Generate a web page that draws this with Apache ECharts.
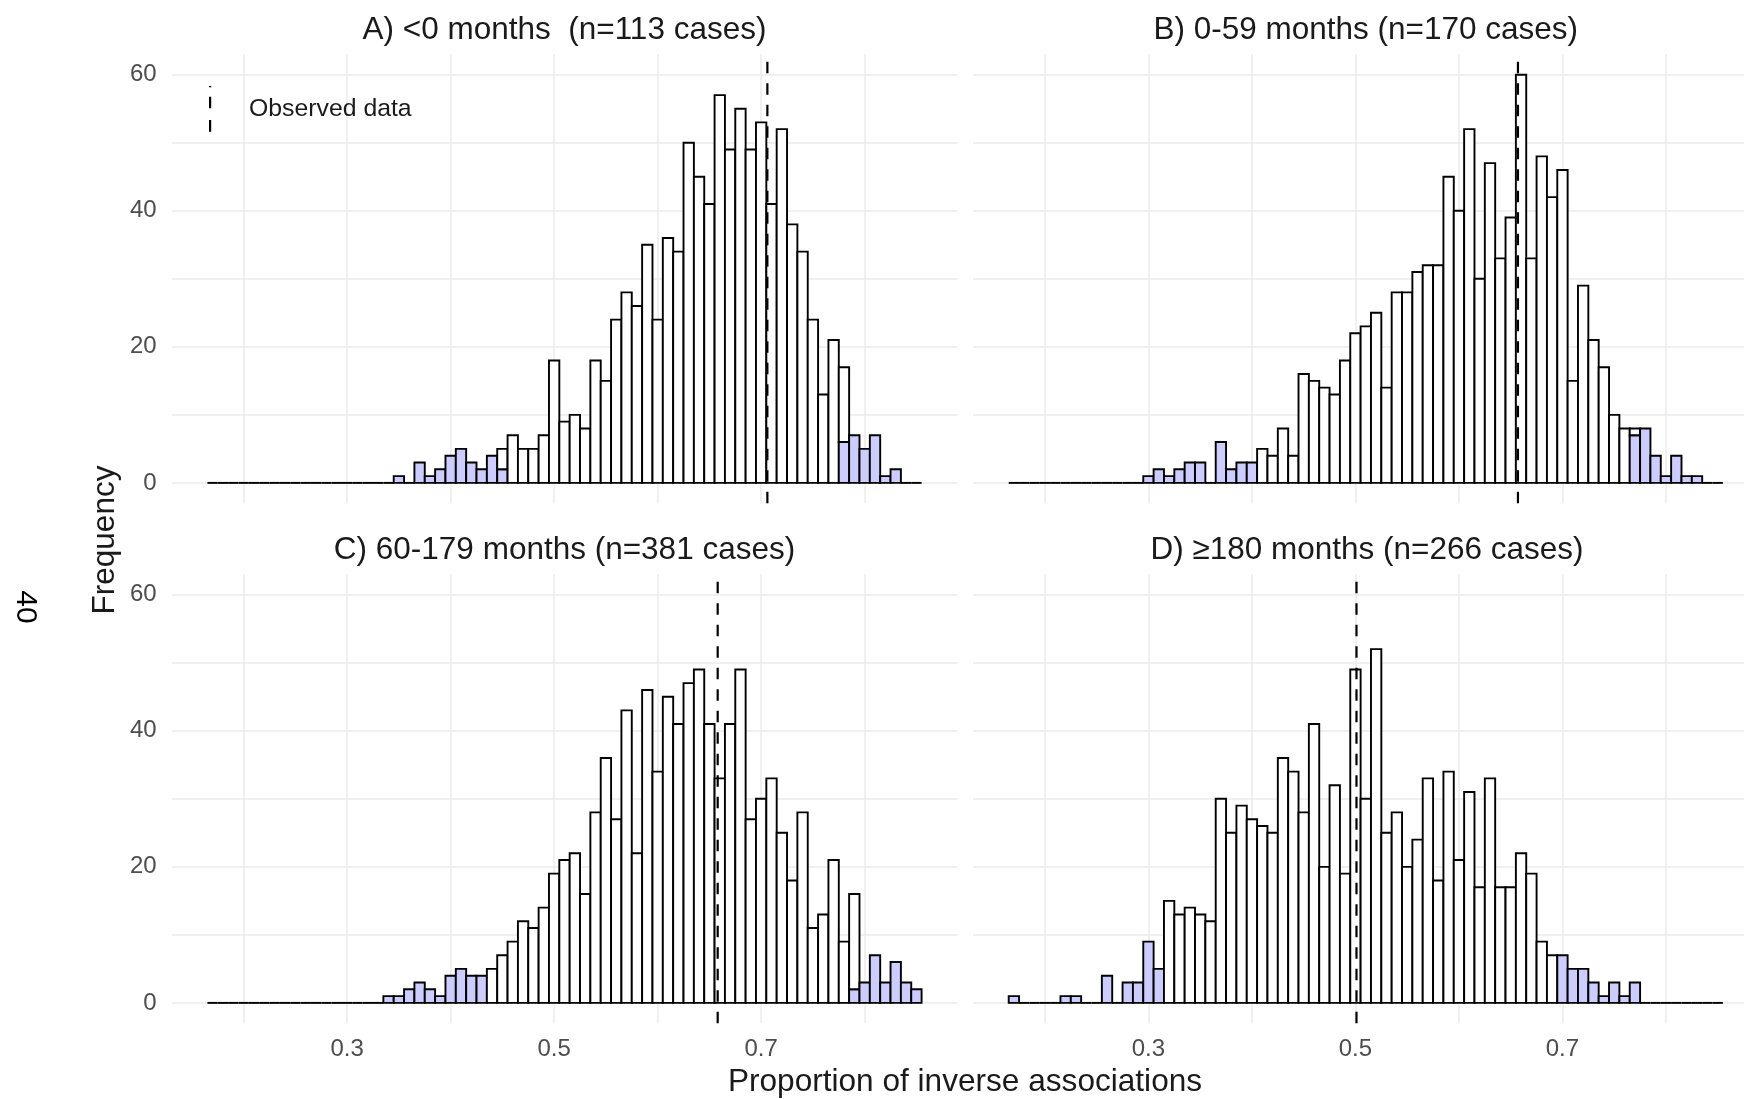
<!DOCTYPE html>
<html>
<head>
<meta charset="utf-8">
<script src="https://cdn.jsdelivr.net/npm/echarts@6/dist/echarts.min.js"></script>
<style>
  html, body { margin: 0; padding: 0; background: #ffffff; }
  #chart { width: 1744px; height: 1099px; }
</style>
</head>
<body>
<div id="chart"></div>
<script>
// Histogram bins: width 0.01, centres 0.17 ... 0.85
const binCenters = [
  0.17, 0.18, 0.19, 0.20, 0.21, 0.22, 0.23, 0.24, 0.25, 0.26,
  0.27, 0.28, 0.29, 0.30, 0.31, 0.32, 0.33, 0.34, 0.35, 0.36,
  0.37, 0.38, 0.39, 0.40, 0.41, 0.42, 0.43, 0.44, 0.45, 0.46,
  0.47, 0.48, 0.49, 0.50, 0.51, 0.52, 0.53, 0.54, 0.55, 0.56,
  0.57, 0.58, 0.59, 0.60, 0.61, 0.62, 0.63, 0.64, 0.65, 0.66,
  0.67, 0.68, 0.69, 0.70, 0.71, 0.72, 0.73, 0.74, 0.75, 0.76,
  0.77, 0.78, 0.79, 0.80, 0.81, 0.82, 0.83, 0.84, 0.85
];
const binWidth = 0.01;

const panelTitles = [
  'A) <0 months  (n=113 cases)',
  'B) 0-59 months (n=170 cases)',
  'C) 60-179 months (n=381 cases)',
  'D) \u2265180 months (n=266 cases)'
];

// Observed proportion of inverse associations per panel
const observedValues = [0.706, 0.657, 0.658, 0.501];

// Total counts per bin
const totalA = [
  0, 0, 0, 0, 0, 0, 0, 0, 0, 0,
  0, 0, 0, 0, 0, 0, 0, 0, 1, 0,
  3, 1, 2, 4, 5, 3, 2, 4, 5, 7,
  5, 5, 7, 18, 9, 10, 8, 18, 15, 24,
  28, 26, 35, 24, 36, 34, 50, 45, 41, 57,
  49, 55, 49, 53, 41, 52, 38, 34, 24, 13,
  21, 17, 7, 5, 7, 1, 2, 0, 0
];
// Counts falling in the tails (shaded)
const tailA = [
  0, 0, 0, 0, 0, 0, 0, 0, 0, 0,
  0, 0, 0, 0, 0, 0, 0, 0, 1, 0,
  3, 1, 2, 4, 5, 3, 2, 4, 2, 0,
  0, 0, 0, 0, 0, 0, 0, 0, 0, 0,
  0, 0, 0, 0, 0, 0, 0, 0, 0, 0,
  0, 0, 0, 0, 0, 0, 0, 0, 0, 0,
  0, 6, 7, 5, 7, 1, 2, 0, 0
];

const totalB = [
  0, 0, 0, 0, 0, 0, 0, 0, 0, 0,
  0, 0, 0, 1, 2, 1, 2, 3, 3, 0,
  6, 2, 3, 3, 5, 4, 8, 4, 16, 15,
  14, 13, 18, 22, 23, 25, 14, 28, 28, 31,
  32, 32, 45, 40, 52, 30, 47, 33, 39, 60,
  33, 48, 42, 46, 15, 29, 21, 17, 10, 8,
  8, 8, 4, 1, 4, 1, 1, 0, 0
];
const tailB = [
  0, 0, 0, 0, 0, 0, 0, 0, 0, 0,
  0, 0, 0, 1, 2, 1, 2, 3, 3, 0,
  6, 2, 3, 3, 0, 0, 0, 0, 0, 0,
  0, 0, 0, 0, 0, 0, 0, 0, 0, 0,
  0, 0, 0, 0, 0, 0, 0, 0, 0, 0,
  0, 0, 0, 0, 0, 0, 0, 0, 0, 0,
  7, 8, 4, 1, 4, 1, 1, 0, 0
];

const totalC = [
  0, 0, 0, 0, 0, 0, 0, 0, 0, 0,
  0, 0, 0, 0, 0, 0, 0, 1, 1, 2,
  3, 2, 1, 4, 5, 4, 4, 5, 7, 9,
  12, 11, 14, 19, 21, 22, 16, 28, 36, 27,
  43, 22, 46, 34, 45, 41, 47, 49, 41, 33,
  41, 49, 27, 30, 33, 25, 18, 28, 11, 13,
  21, 9, 16, 3, 7, 3, 6, 3, 2
];
const tailC = [
  0, 0, 0, 0, 0, 0, 0, 0, 0, 0,
  0, 0, 0, 0, 0, 0, 0, 1, 1, 2,
  3, 2, 1, 4, 5, 4, 4, 0, 0, 0,
  0, 0, 0, 0, 0, 0, 0, 0, 0, 0,
  0, 0, 0, 0, 0, 0, 0, 0, 0, 0,
  0, 0, 0, 0, 0, 0, 0, 0, 0, 0,
  0, 0, 2, 3, 7, 3, 6, 3, 2
];

const totalD = [
  1, 0, 0, 0, 0, 1, 1, 0, 0, 4,
  0, 3, 3, 9, 5, 15, 13, 14, 13, 12,
  30, 25, 29, 27, 26, 25, 36, 34, 28, 41,
  20, 32, 19, 49, 30, 52, 25, 28, 20, 24,
  33, 18, 34, 21, 31, 17, 33, 17, 17, 22,
  19, 9, 7, 7, 5, 5, 3, 1, 3, 1,
  3, 0, 0, 0, 0, 0, 0, 0, 0
];
const tailD = [
  1, 0, 0, 0, 0, 1, 1, 0, 0, 4,
  0, 3, 3, 9, 5, 0, 0, 0, 0, 0,
  0, 0, 0, 0, 0, 0, 0, 0, 0, 0,
  0, 0, 0, 0, 0, 0, 0, 0, 0, 0,
  0, 0, 0, 0, 0, 0, 0, 0, 0, 0,
  0, 0, 0, 7, 5, 5, 3, 1, 3, 1,
  3, 0, 0, 0, 0, 0, 0, 0, 0
];

const xTickLabels = [0.3, 0.5, 0.7];
const yTickLabels = [0, 20, 40, 60];

const panelTotals = [totalA, totalB, totalC, totalD];
const panelTails = [tailA, tailB, tailC, tailD];

const FONT = "'Liberation Sans', Arial, Helvetica, sans-serif";
const GRID_COLOR = '#ebebeb';
const TAIL_FILL = '#ccccff';
const OUTLINE = 1.9;

// panel frames
const panelLeft = [171.7, 973.0, 171.7, 973.0];
const panelTop = [54.3, 54.3, 574.3, 574.3];
const panelWidth = 785.6;
const panelHeight = 449.0;
const titleCenters = [564.5, 1365.8, 564.5, 1367.0];

const chart = echarts.init(document.getElementById('chart'), null, { renderer: 'canvas' });

function renderBin(params, api) {
  const c = api.value(0);
  const tail = api.value(1);
  const total = api.value(2);
  const x0 = c - binWidth / 2;
  const x1 = c + binWidth / 2;
  const pBase0 = api.coord([x0, 0]);
  const pBase1 = api.coord([x1, 0]);
  const w = pBase1[0] - pBase0[0];
  const children = [];
  if (total === 0) {
    children.push({
      type: 'line',
      shape: { x1: pBase0[0], y1: pBase0[1], x2: pBase1[0], y2: pBase1[1] },
      style: { stroke: '#000', lineWidth: OUTLINE }
    });
  } else {
    if (tail > 0) {
      const pt = api.coord([x0, tail]);
      children.push({
        type: 'rect',
        shape: { x: pBase0[0], y: pt[1], width: w, height: pBase0[1] - pt[1] },
        style: { fill: TAIL_FILL, stroke: '#000', lineWidth: OUTLINE }
      });
    }
    if (total > tail) {
      const pb = api.coord([x0, tail]);
      const pt = api.coord([x0, total]);
      children.push({
        type: 'rect',
        shape: { x: pBase0[0], y: pt[1], width: w, height: pb[1] - pt[1] },
        style: { fill: '#ffffff', stroke: '#000', lineWidth: OUTLINE }
      });
    }
  }
  return { type: 'group', children: children };
}

function renderObserved(params, api) {
  const x = api.value(0);
  const pBottom = api.coord([x, -3]);
  const pTop = api.coord([x, 63]);
  return {
    type: 'line',
    shape: { x1: pBottom[0], y1: pBottom[1], x2: pTop[0], y2: pTop[1] },
    style: { stroke: '#000', lineWidth: 2.2, lineDash: [11.5, 10] }
  };
}

const grids = [], xAxes = [], yAxes = [], series = [], titles = [];

for (let p = 0; p < 4; p++) {
  const isBottom = p >= 2;
  const isLeft = p % 2 === 0;
  grids.push({
    left: panelLeft[p], top: panelTop[p], width: panelWidth, height: panelHeight,
    containLabel: false, outerBoundsMode: 'none'
  });
  xAxes.push({
    type: 'value', gridIndex: p, min: 0.1305, max: 0.8895,
    splitNumber: 7, minInterval: 0.1, maxInterval: 0.1,
    axisLine: { show: false, onZero: false }, axisTick: { show: false },
    splitLine: { show: true, showMinLine: false, showMaxLine: false, lineStyle: { color: GRID_COLOR, width: 1.5 } },
    axisLabel: {
      show: isBottom, customValues: xTickLabels, margin: 14,
      color: '#4d4d4d', fontSize: 24, fontFamily: FONT,
      formatter: v => v.toFixed(1)
    }
  });
  yAxes.push({
    type: 'value', gridIndex: p, min: -3, max: 63,
    splitNumber: 6, minInterval: 10, maxInterval: 10,
    axisLine: { show: false, onZero: false }, axisTick: { show: false },
    splitLine: { show: true, showMinLine: false, showMaxLine: false, lineStyle: { color: GRID_COLOR, width: 1.5 } },
    axisLabel: {
      show: isLeft, customValues: yTickLabels, margin: 15,
      color: '#4d4d4d', fontSize: 24, fontFamily: FONT,
      padding: [3, 0, 0, 0]
    }
  });
  series.push({
    type: 'custom', name: 'hist' + p, xAxisIndex: p, yAxisIndex: p,
    renderItem: renderBin, silent: true, z: 2,
    encode: { x: 0, y: 2 },
    data: binCenters.map((c, i) => [c, panelTails[p][i], panelTotals[p][i]])
  });
  series.push({
    type: 'custom', name: 'Observed data', xAxisIndex: p, yAxisIndex: p,
    renderItem: renderObserved, silent: true, z: 5,
    itemStyle: { color: '#000' },
    encode: { x: 0 },
    data: [[observedValues[p]]]
  });
  titles.push({
    text: panelTitles[p], left: titleCenters[p], textAlign: 'center',
    top: isBottom ? 534.5 : 15, padding: 0,
    textStyle: { fontSize: 31.5, fontWeight: 'normal', color: '#1a1a1a', fontFamily: FONT, lineHeight: 31.5 }
  });
}

chart.setOption({
  animation: false,
  backgroundColor: '#ffffff',
  title: titles,
  grid: grids,
  xAxis: xAxes,
  yAxis: yAxes,
  legend: {
    data: [{
      name: 'Observed data',
      icon: 'path://M0,0h0.01v0.01h-0.01z M67.99,45.99h0.01v0.01h-0.01z M33,0h2.2v1.3h-2.2z M33,10.7h2.2v11.6h-2.2z M33,34h2.2v11.7h-2.2z'
    }],
    left: 171, top: 81, padding: 5,
    itemWidth: 68, itemHeight: 46, selectedMode: false, symbolKeepAspect: false,
    textStyle: { fontSize: 24.8, color: '#1a1a1a', fontFamily: FONT }
  },
  graphic: [
    {
      type: 'text', x: 965, y: 1082,
      style: { text: 'Proportion of inverse associations', x: 0, y: 0, align: 'center', verticalAlign: 'middle',
        fontSize: 31.6, fill: '#1a1a1a', fontFamily: FONT }
    },
    {
      type: 'text', x: 105, y: 540, rotation: Math.PI / 2,
      style: { text: 'Frequency', x: 0, y: 0, align: 'center', verticalAlign: 'middle',
        fontSize: 31.5, fill: '#1a1a1a', fontFamily: FONT }
    },
    {
      type: 'text', x: 25, y: 607, rotation: -Math.PI / 2,
      style: { text: '40', x: 0, y: 0, align: 'center', verticalAlign: 'middle',
        fontSize: 30, fill: '#000000', fontFamily: FONT }
    }
  ],
  series: series
});
</script>
</body>
</html>
